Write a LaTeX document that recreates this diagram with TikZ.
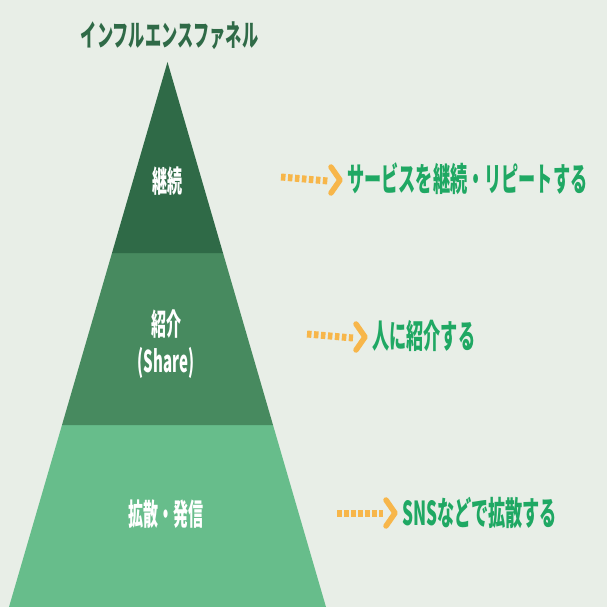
\documentclass[tikz,border=0pt]{standalone}
\usepackage{fontspec}
\setmainfont{Noto Sans CJK JP}[FakeStretch=0.52]
\newfontfamily\jpT{Noto Sans CJK JP}[FakeStretch=0.54]
\newfontfamily\jpL{Noto Sans CJK JP}[FakeStretch=0.5]
\definecolor{bg}{HTML}{E8EEE7}
\definecolor{dkg}{HTML}{2F6A47}
\definecolor{mdg}{HTML}{478A5F}
\definecolor{ltg}{HTML}{67BD8B}
\definecolor{txg}{HTML}{1FA863}
\definecolor{org}{HTML}{F7B64A}
\tikzset{
  layerlbl/.style={text=white,font=\jpL\bfseries\fontsize{30}{37}\selectfont,align=center,inner sep=0},
  rlbl/.style={text=txg,font=\bfseries\fontsize{33}{36}\selectfont,anchor=west,inner sep=0},
  dotline/.style={draw=org,line width=7pt,dash pattern=on 4.5pt off 2.5pt},
  chev/.style={draw=org,line width=5.5pt,line cap=round,line join=round}
}
\begin{document}
\begin{tikzpicture}[x=1pt,y=-1pt]
\fill[bg] (0,0) rectangle (607,607);
\useasboundingbox (0,0) rectangle (607,607);
% layers
\fill[ltg] (9,607) -- (62,425) -- (273,425) -- (326,607) -- cycle;
\fill[mdg] (62,425) -- (112,253) -- (223,253) -- (273,425) -- cycle;
\fill[dkg] (112,253) -- (167.5,62) -- (223,253) -- cycle;
% title
\node[text=dkg,font=\jpT\bfseries\fontsize{30}{32}\selectfont,inner sep=0] (title) at (169.5,36) {インフルエンスファネル};
% layer labels
\node[layerlbl] (l1) at (167,181) {継続};
\node[layerlbl] (l2) at (166,344) {紹介\\(Share)};
\node[layerlbl] (l3) at (166,514) {拡散・発信};
% right labels
\node[rlbl] (t1) at (347,179) {サービスを継続・リピートする};
\node[rlbl] (t2) at (372,336) {人に紹介する};
\node[rlbl] (t3) at (402,513) {SNSなどで拡散する};
% arrows
\coordinate (a1) at (281,177);
\coordinate (a2) at (307,334);
\coordinate (a3) at (337,513);
\draw[dotline] (a1) -- ([xshift=-19pt,yshift=-2pt]t1.west);
\draw[chev] ([xshift=-16pt,yshift=-14pt]t1.west) -- ([xshift=-7pt,yshift=-1pt]t1.west) -- ([xshift=-16pt,yshift=12pt]t1.west);
\draw[dotline] (a2) -- ([xshift=-19pt,yshift=-2pt]t2.west);
\draw[chev] ([xshift=-16pt,yshift=-14pt]t2.west) -- ([xshift=-7pt,yshift=-1pt]t2.west) -- ([xshift=-16pt,yshift=12pt]t2.west);
\draw[dotline] (a3) -- ([xshift=-19pt,yshift=0pt]t3.west);
\draw[chev] ([xshift=-16pt,yshift=-13pt]t3.west) -- ([xshift=-7pt,yshift=0pt]t3.west) -- ([xshift=-16pt,yshift=13pt]t3.west);
\end{tikzpicture}
\end{document}
